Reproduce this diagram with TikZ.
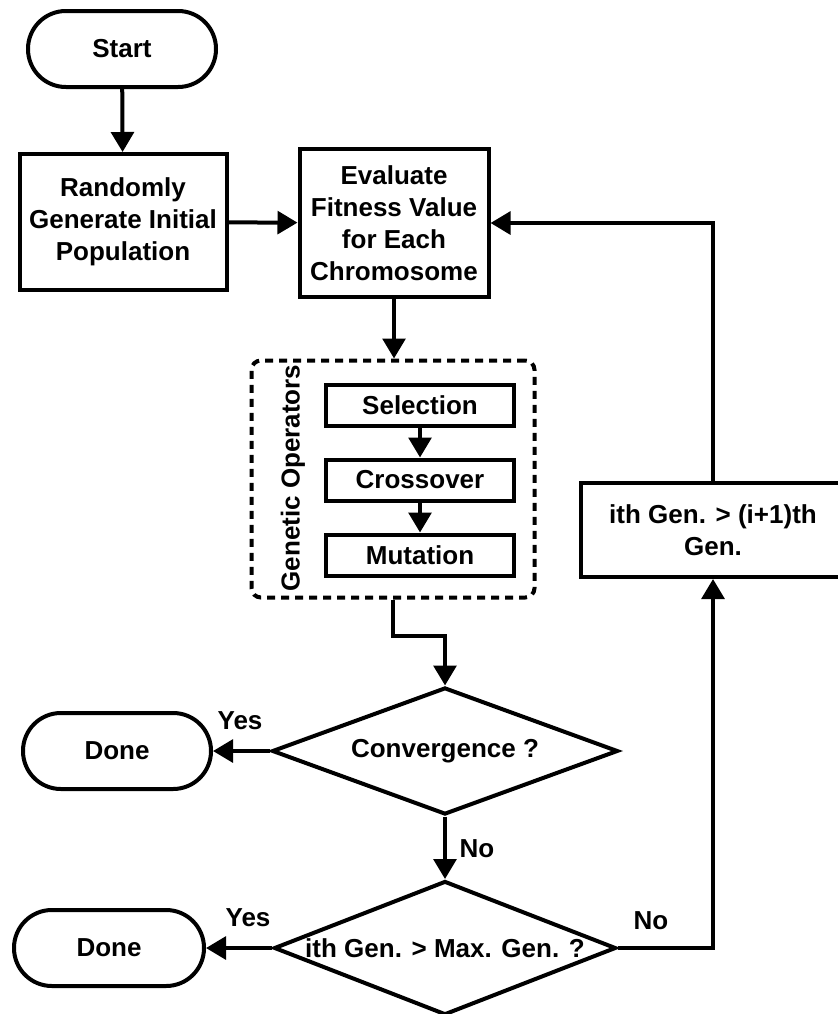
\documentclass[tikz,border=0pt]{standalone}
\usepackage{fontspec}
\setmainfont{Liberation Sans}
\usetikzlibrary{shapes.geometric,arrows.meta,calc}
\newdimen\pxu \pxu=0.75pt
\newcommand{\flowfont}{\fontsize{19.5}{24}\selectfont\bfseries}

\begin{document}
\begin{tikzpicture}[x=0.75pt,y=-0.75pt,
  base/.style={draw, line width=3pt, font=\flowfont, align=center, inner sep=0pt},
  term/.style={base, rectangle, rounded corners=28.4pt},
  proc/.style={base, rectangle},
  decide/.style={base, diamond},
  group/.style={draw, line width=3pt, dash pattern=on 6pt off 4.5pt, rounded corners=7pt, inner sep=0pt},
  conn/.style={line width=3pt, -{Triangle[length=15pt,width=17pt]}},
  tag/.style={font=\flowfont, inner sep=0pt}
]
\useasboundingbox (0,0) rectangle (838,1014);

% main column
\node[term, minimum width=188\pxu, minimum height=76\pxu] (start) at (122,49) {Start};
\node[proc, minimum width=207\pxu, minimum height=136\pxu] (init) at (123,222) {Randomly\\Generate Initial\\Population};
\node[proc, minimum width=189\pxu, minimum height=148\pxu] (eval) at (394,223) {Evaluate\\Fitness Value\\for Each\\Chromosome};

% genetic operators group
\node[group, minimum width=283\pxu, minimum height=237\pxu] (ops) at (393,479) {};
\node[tag, rotate=90] (opslbl) at (293,478) {Genetic Operators};
\node[proc, minimum width=188\pxu, minimum height=41\pxu] (sel) at (420,405) {Selection};
\node[proc, minimum width=188\pxu, minimum height=41\pxu] (cross) at (420,480) {Crossover};
\node[proc, minimum width=188\pxu, minimum height=41\pxu] (mut) at (420,555) {Mutation};

% decisions
\node[decide, minimum width=346\pxu, minimum height=127\pxu, label={[font=\flowfont]center:Convergence ?}] (conv) at (445,751) {};
\node[decide, minimum width=342\pxu, minimum height=134\pxu, label={[font=\flowfont]center:ith Gen. > Max. Gen. ?}] (maxgen) at (445,948) {};
\node[term, minimum width=188\pxu, minimum height=76\pxu] (done1) at (117,751) {Done};
\node[term, minimum width=190\pxu, minimum height=76\pxu] (done2) at (109,948) {Done};

% next generation box
\node[proc, minimum width=264\pxu, minimum height=94\pxu] (next) at (713,530) {ith Gen. > (i+1)th\\Gen.};

% connectors
\draw[conn] (start) -- (init);
\draw[conn] (init) -- (eval);
\draw[conn] (eval.south) -- (eval.south |- ops.north);
\draw[conn] (sel) -- (cross);
\draw[conn] (cross) -- (mut);
\draw[conn] (ops.south) -- ++(0,36) -| (conv.north);
\draw[conn] (conv.west) -- (done1.east);
\draw[conn] (conv.south) -- (maxgen.north);
\draw[conn] (maxgen.west) -- (done2.east);
\draw[conn] (maxgen.east) -| (next.south);
\draw[conn] (next.north) |- (eval.east);

% branch labels
\node[tag] (yes1) at (240,721) {Yes};
\node[tag] (no1) at (477,849) {No};
\node[tag] (yes2) at (248,918) {Yes};
\node[tag] (no2) at (651,921) {No};
\end{tikzpicture}
\end{document}
